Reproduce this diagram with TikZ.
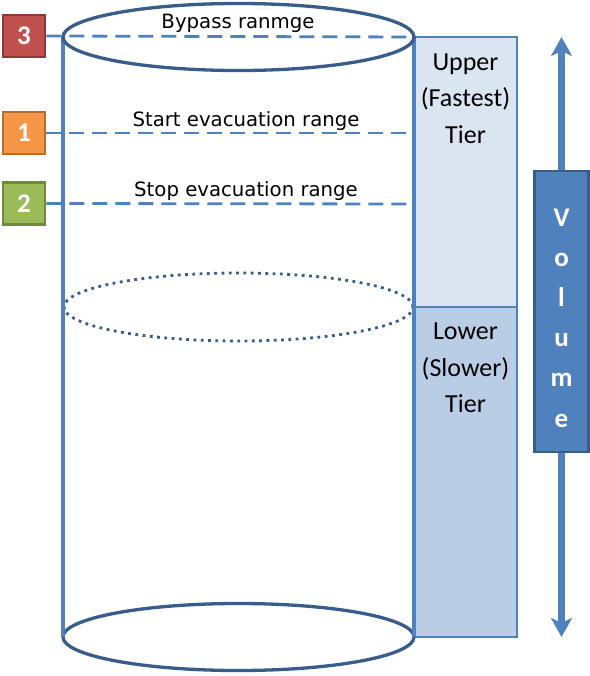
\documentclass[tikz,border=0pt]{standalone}
\usepackage{fontspec}
\setmainfont{DejaVu Sans}
\newfontfamily\calfont{Carlito}
\usetikzlibrary{arrows.meta,shapes.geometric}
\definecolor{acc}{HTML}{4F81BD}
\definecolor{dk}{HTML}{385D8A}
\definecolor{upfill}{HTML}{DBE5F1}
\definecolor{lofill}{HTML}{B9CDE5}
\definecolor{redf}{HTML}{C0504D}
\definecolor{redd}{HTML}{8C3836}
\definecolor{orgf}{HTML}{F79646}
\definecolor{orgd}{HTML}{B66D31}
\definecolor{grnf}{HTML}{9BBB59}
\definecolor{grnd}{HTML}{71893F}
\tikzset{
  cylline/.style={draw=acc, line width=3.3bp},
  cylcap/.style={ellipse, draw=dk, line width=3.3bp, inner sep=0pt, minimum width=351bp, minimum height=67bp, fill=white},
  midcap/.style={ellipse, draw=dk, line width=2.8bp, dash pattern=on 2.8bp off 4.5bp, inner sep=0pt, minimum width=349bp, minimum height=68bp},
  rangeline/.style={draw=acc, line width=2.8bp, dash pattern=on 15bp off 8bp},
  numbox/.style={minimum size=42bp, inner sep=0pt, line width=2.8bp, text=white, font={\calfont\bfseries\fontsize{27bp}{30bp}\selectfont}},
  lbl/.style={anchor=base, inner sep=0pt, font={\fontsize{19.7bp}{24bp}\selectfont}},
  tierbox/.style={draw=acc, line width=2.8bp, inner sep=0pt, minimum width=103bp},
  tiertext/.style={align=center, inner sep=0pt, font={\calfont\fontsize{26bp}{36.5bp}\selectfont}},
  volbox/.style={draw=dk, fill=acc, line width=2.2bp, inner sep=0pt, minimum width=54bp, minimum height=281bp},
  voltext/.style={align=center, inner sep=0pt, text=white, font={\calfont\bfseries\fontsize{27bp}{40.2bp}\selectfont}},
  volarrow/.style={draw=acc, line width=6.5bp, -{Stealth[width=21bp,length=19bp,inset=5bp]}}
}
\begin{document}
\begin{tikzpicture}[x=1bp,y=-1bp]
\useasboundingbox (0,0) rectangle (590,676);
% volume arrow and box
\coordinate (vtop) at (561.5,37);
\coordinate (vbot) at (561.5,637);
\node[volbox] (vol) at (561.5,311.5) {};
\draw[volarrow] (vol.north) -- (vtop);
\draw[volarrow] (vol.south) -- (vbot);
\node[voltext] (voltxt) at (561.5,318) {V\\o\\l\\u\\m\\e};
% tiers
\node[tierbox, fill=upfill, minimum height=270bp] (upper) at (465.5,172) {};
\node[tierbox, fill=lofill, minimum height=330bp] (lower) at (465.5,472) {};
\node[tiertext] (uptxt) at (465.5,98.5) {Upper\\(Fastest)\\Tier};
\node[tiertext] (lowtxt) at (465.5,368) {Lower\\(Slower)\\Tier};
% cylinder
\node[cylcap] (bot) at (238.5,637) {};
\node[midcap] (mid) at (238.5,307) {};
\coordinate (tl) at (63,37);
\coordinate (tr) at (414,37);
\coordinate (bl) at (63,637);
\coordinate (br) at (414,637);
\draw[cylline] (tl) -- (bl);
\draw[cylline] (tr) -- (br);
\node[cylcap, fill=none] (top) at (238.5,37) {};
% numbered markers
\node[numbox, fill=redf, draw=redd] (n3) at (24,36) {3};
\node[numbox, fill=orgf, draw=orgd] (n1) at (24,133) {1};
\node[numbox, fill=grnf, draw=grnd] (n2) at (24,203.5) {2};
\coordinate (r3) at (414,37);
\coordinate (r1) at (414,133);
\coordinate (r2) at (414,204);
\draw[rangeline] (n3.east) -- (r3);
\draw[rangeline] (n1.east) -- (r1);
\draw[rangeline] (n2.east) -- (r2);
% labels
\node[lbl] (l3) at (238,29) {Bypass ranmge};
\node[lbl] (l1) at (246,127) {Start evacuation range};
\node[lbl] (l2) at (246,196) {Stop evacuation range};
\end{tikzpicture}
\end{document}
